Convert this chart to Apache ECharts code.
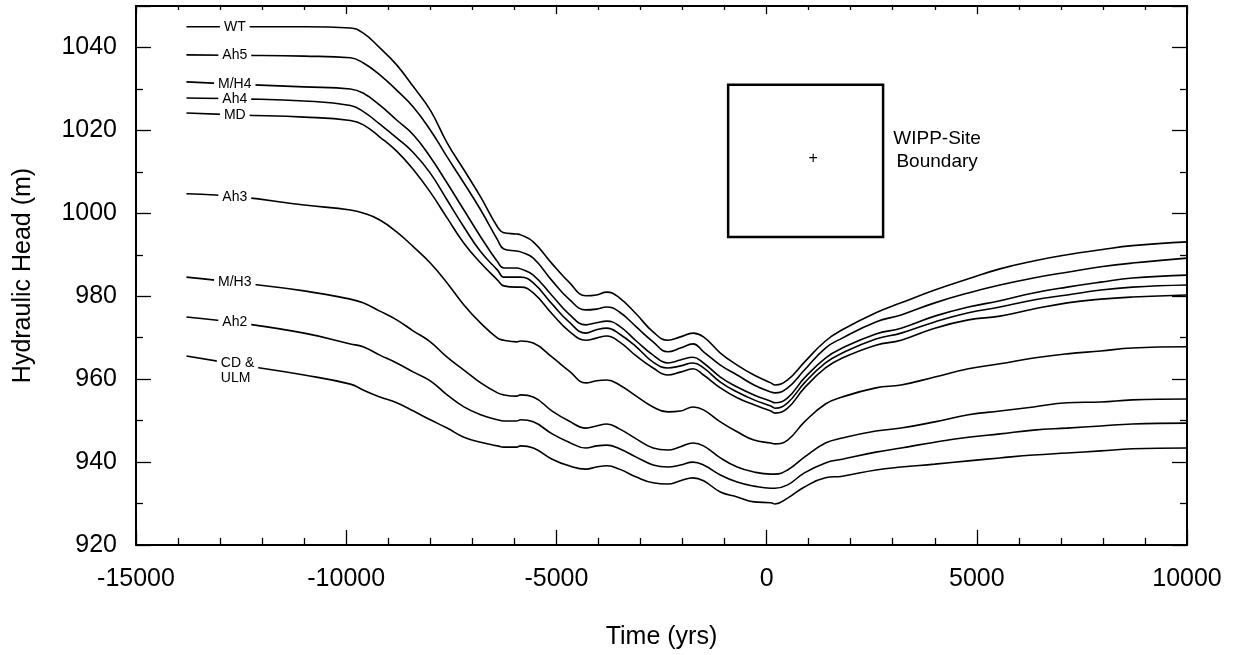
<!DOCTYPE html>
<html>
<head>
<meta charset="utf-8">
<script src="https://cdn.jsdelivr.net/npm/echarts@6/dist/echarts.min.js"></script>
<style>
  html, body { margin: 0; background: #fff; }
  #chart { width: 1237px; height: 655px; }
</style>
</head>
<body>
<div id="chart"></div>
<script>
// time in years (shared by every layer)
const time = [-13800, -12500, -11000, -9900, -9600, -9200, -8800, -8400, -8000, -7600, -7200, -6800,
  -6400, -6250, -5950, -5850, -5550, -5100, -4700, -4300, -4050, -3800, -3500, -3100, -2700, -2350,
  -2050, -1750, -1500, -1100, -700, -300, 100, 200, 500, 900, 1400, 1800, 2600, 3200, 4000, 4800,
  5550, 6350, 7150, 7950, 8700, 10000];

// hydraulic head (m) per layer
const headWT = [1045.0, 1045.0, 1045.0, 1044.7, 1043.5, 1039.9, 1035.8, 1030.5, 1024.9, 1017.0, 1010.5, 1003.9,
  996.7, 995.3, 995.0, 994.8, 993.1, 987.8, 983.4, 980.1, 980.3, 981.0, 979.6, 975.7, 971.4, 969.4,
  970.2, 971.1, 970.2, 966.3, 963.4, 961.0, 959.1, 958.6, 959.8, 964.1, 969.2, 971.9, 976.0, 978.4, 981.5, 984.2,
  986.6, 988.5, 990.0, 991.2, 992.2, 993.1];
const headAh5 = [1038.2, 1038.1, 1037.9, 1037.5, 1036.3, 1033.4, 1029.7, 1025.6, 1020.1, 1013.6, 1007.3, 1000.8,
  993.6, 991.4, 990.9, 990.7, 989.2, 983.7, 979.3, 976.7, 976.9, 977.4, 976.2, 972.6, 969.0, 966.6,
  967.5, 968.5, 966.6, 963.4, 961.0, 958.6, 956.9, 956.7, 957.9, 962.2, 967.5, 969.9, 973.8, 975.5, 978.4, 980.8,
  982.7, 984.4, 985.8, 987.1, 988.0, 989.2];
const headMH4 = [1031.7, 1031.1, 1030.5, 1030.0, 1029.0, 1026.1, 1022.5, 1018.9, 1013.6, 1007.3, 1000.8, 994.3,
  988.3, 986.8, 986.8, 986.6, 985.1, 980.1, 975.7, 973.1, 973.6, 974.0, 972.8, 969.2, 965.8, 963.9,
  964.6, 965.3, 963.9, 960.5, 958.1, 956.2, 954.7, 954.3, 955.5, 960.3, 965.1, 967.5, 970.9, 972.3, 975.2, 977.4,
  978.9, 980.8, 982.2, 983.4, 984.4, 985.1];
const headAh4 = [1027.8, 1027.6, 1027.1, 1026.0, 1024.6, 1021.5, 1018.2, 1014.6, 1009.7, 1003.2, 996.7, 990.7,
  986.3, 984.6, 984.6, 984.6, 983.2, 978.1, 973.8, 971.1, 971.9, 972.3, 970.9, 967.8, 964.1, 962.7,
  963.2, 963.9, 962.7, 959.3, 956.9, 955.0, 953.5, 953.0, 954.3, 959.1, 963.9, 966.3, 969.7, 971.1, 973.8, 976.0,
  977.4, 979.1, 980.3, 981.5, 982.2, 982.7];
const headMD = [1024.2, 1023.7, 1023.2, 1022.4, 1021.4, 1018.4, 1015.0, 1010.5, 1005.1, 998.9, 992.8, 988.0,
  983.9, 982.5, 982.2, 982.2, 980.8, 975.7, 971.6, 969.4, 969.9, 970.4, 969.0, 965.6, 962.7, 961.0,
  961.7, 962.5, 961.0, 957.9, 955.5, 953.8, 952.3, 951.8, 953.0, 957.9, 962.7, 965.1, 968.2, 969.4, 972.3, 974.3,
  975.2, 976.9, 978.4, 979.3, 979.8, 980.3];
const headAh3 = [1004.7, 1003.9, 1002.0, 1000.8, 1000.1, 998.4, 995.5, 991.9, 988.0, 983.2, 977.9, 973.5,
  969.9, 969.4, 969.0, 969.2, 968.7, 965.3, 962.0, 959.1, 959.6, 959.8, 958.6, 955.9, 953.3, 952.1,
  952.3, 953.3, 952.6, 949.7, 947.3, 945.3, 944.6, 944.4, 945.3, 949.7, 954.0, 955.7, 957.9, 958.6, 960.5, 962.5,
  963.7, 965.1, 966.1, 966.8, 967.5, 967.8];
const headMH3 = [984.6, 983.2, 981.3, 979.3, 978.4, 976.4, 974.3, 971.6, 969.0, 965.3, 962.2, 959.1,
  956.7, 956.2, 955.9, 956.2, 955.7, 952.3, 949.9, 948.2, 948.7, 949.2, 948.0, 945.6, 943.4, 942.9,
  943.7, 944.6, 943.9, 941.0, 938.8, 937.6, 937.1, 937.1, 938.1, 941.2, 944.6, 945.8, 947.5, 948.2, 949.7, 951.4,
  952.3, 953.3, 954.3, 954.5, 955.0, 955.2];
const headAh2 = [975.0, 973.5, 971.1, 968.5, 967.8, 965.8, 963.9, 961.7, 959.6, 956.2, 953.3, 951.4,
  950.2, 949.9, 949.9, 950.2, 949.7, 946.8, 944.8, 943.4, 943.9, 944.1, 943.2, 941.2, 939.3, 938.8,
  939.3, 940.0, 939.3, 936.9, 935.2, 934.2, 933.7, 933.7, 934.5, 937.4, 939.8, 940.7, 942.4, 943.4, 944.8, 946.0,
  946.8, 947.7, 948.2, 948.7, 949.2, 949.4];
const headCD = [965.6, 963.4, 961.0, 958.8, 957.4, 955.7, 954.3, 952.3, 950.2, 948.2, 946.0, 944.8,
  943.9, 943.6, 943.6, 943.9, 943.4, 940.7, 939.1, 938.3, 938.8, 939.1, 938.3, 936.4, 935.0, 934.7,
  935.5, 936.2, 935.5, 932.8, 931.6, 930.4, 930.2, 929.9, 931.3, 934.0, 936.2, 936.6, 938.1, 938.8, 939.5, 940.3,
  941.0, 941.7, 942.2, 942.7, 943.2, 943.4];

const layerNames = ['WT', 'Ah5', 'M/H4', 'Ah4', 'MD', 'Ah3', 'M/H3', 'Ah2', 'CD &\nULM'];
const layerHeads = [headWT, headAh5, headMH4, headAh4, headMD, headAh3, headMH3, headAh2, headCD];

const labelTime = -12650;   // where the layer names sit on the curves
const FONT = '"Liberation Sans", Arial, Helvetica, sans-serif';

// linear lookup of a head value on a curve (for placing the name on it)
function headAt(heads, t) {
  for (let k = 1; k < time.length; k++) {
    if (t <= time[k]) {
      const f = (t - time[k - 1]) / (time[k] - time[k - 1]);
      return heads[k - 1] + f * (heads[k] - heads[k - 1]);
    }
  }
  return heads[heads.length - 1];
}

const series = layerNames.map(function (name, i) {
  const twoLines = name.indexOf('\n') >= 0;
  return {
    name: name,
    type: 'line',
    data: time.map(function (t, k) { return [t, layerHeads[i][k]]; }),
    showSymbol: false,
    smooth: 0.45,
    silent: true,
    lineStyle: { color: '#000', width: 1.6 },
    markPoint: {
      symbol: 'circle',
      symbolSize: 0,
      silent: true,
      data: [{
        name: name,
        coord: [labelTime, headAt(layerHeads[i], labelTime)],
        label: twoLines ? { align: 'left', offset: [-18, 7], lineHeight: 15 } : {}
      }],
      label: {
        show: true,
        position: 'inside',
        formatter: '{b}',
        color: '#000',
        fontFamily: FONT,
        fontSize: 14,
        backgroundColor: '#fff',
        padding: [1, 4]
      }
    }
  };
});

// site boundary box, centre cross and its caption
series[0].markArea = {
  silent: true,
  label: { show: false },
  itemStyle: { color: 'rgba(0,0,0,0)', borderColor: '#000', borderWidth: 2.5 },
  data: [[{ coord: [-915, 1031.0] }, { coord: [2771, 994.3] }]]
};
series[0].markPoint.data.push(
  { name: '+', coord: [1106, 1013.1], label: { fontSize: 16, backgroundColor: 'transparent', padding: 0 } },
  { name: 'WIPP-Site\nBoundary', coord: [4056, 1015.2],
    label: { fontSize: 19, lineHeight: 23, backgroundColor: 'transparent', padding: 0 } }
);

const tickStyle = { color: '#000', width: 1.3 };
const frameLine = { show: true, onZero: false, lineStyle: { color: '#000', width: 2 } };
const plain = function (v) { return String(v); };

const option = {
  animation: false,
  backgroundColor: '#fff',
  grid: { left: 136, right: 50, top: 6, bottom: 110, containLabel: false },
  xAxis: [{
    type: 'value', position: 'bottom',
    min: -15000, max: 10000, interval: 5000,
    axisLine: frameLine,
    axisTick: { inside: true, length: 15, lineStyle: tickStyle },
    minorTick: { show: true, splitNumber: 5, length: 7, lineStyle: tickStyle },
    splitLine: { show: false },
    axisLabel: { color: '#000', fontFamily: FONT, fontSize: 25, margin: 22, formatter: plain },
    name: 'Time (yrs)', nameLocation: 'middle', nameGap: 80,
    nameTextStyle: { color: '#000', fontFamily: FONT, fontSize: 25 }
  }, {
    type: 'value', position: 'top',
    min: -15000, max: 10000, interval: 5000,
    axisLine: frameLine,
    axisTick: { inside: true, length: 8, lineStyle: tickStyle },
    minorTick: { show: true, splitNumber: 5, length: 4, lineStyle: tickStyle },
    splitLine: { show: false },
    axisLabel: { show: false }
  }],
  yAxis: [{
    type: 'value', position: 'left',
    min: 920, max: 1050, interval: 20,
    axisLine: frameLine,
    axisTick: { inside: true, length: 15, lineStyle: tickStyle },
    minorTick: { show: true, splitNumber: 2, length: 7, lineStyle: tickStyle },
    splitLine: { show: false },
    axisLabel: { color: '#000', fontFamily: FONT, fontSize: 25, margin: 19, showMaxLabel: false, formatter: plain },
    name: 'Hydraulic Head (m)', nameLocation: 'middle', nameGap: 100,
    nameTextStyle: { color: '#000', fontFamily: FONT, fontSize: 25 }
  }, {
    type: 'value', position: 'right',
    min: 920, max: 1050, interval: 20,
    axisLine: frameLine,
    axisTick: { inside: true, length: 15, lineStyle: tickStyle },
    minorTick: { show: true, splitNumber: 2, length: 7, lineStyle: tickStyle },
    splitLine: { show: false },
    axisLabel: { show: false }
  }],
  series: series
};

const chart = echarts.init(document.getElementById('chart'));
chart.setOption(option);
</script>
</body>
</html>
